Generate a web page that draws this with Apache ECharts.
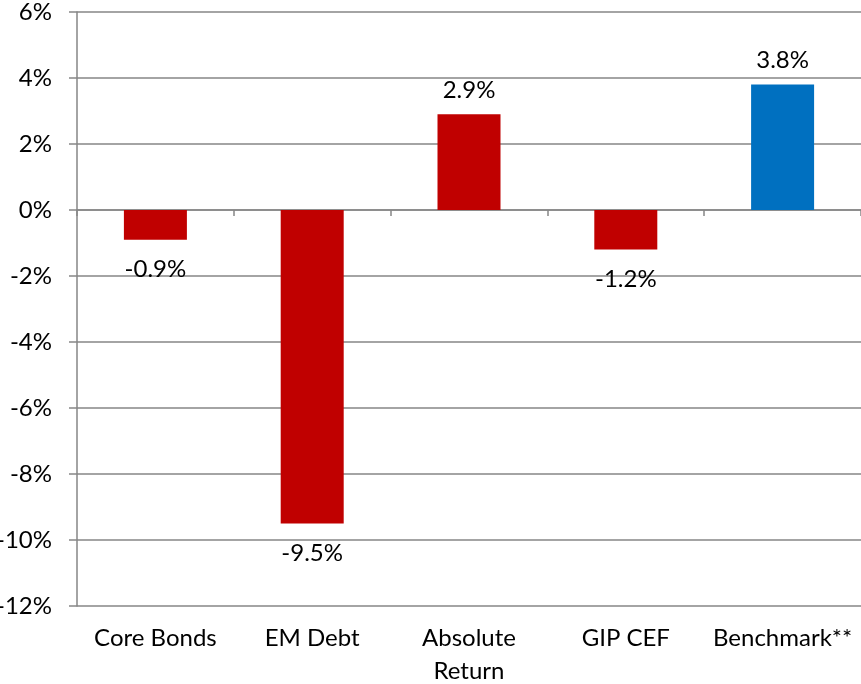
<!DOCTYPE html>
<html>
<head>
<meta charset="utf-8">
<script src="https://cdn.jsdelivr.net/npm/echarts@6/dist/echarts.min.js"></script>
<style>
  html, body { margin: 0; padding: 0; background: #fff; }
  #chart { width: 861px; height: 684px; }
</style>
</head>
<body>
<div id="chart"></div>
<script>
// data
var categories = ["Core Bonds", "EM Debt", "Absolute\nReturn", "GIP CEF", "Benchmark**"];
var returns = [-0.9, -9.5, 2.9, -1.2, 3.8];
var yTicks = { min: -12, max: 6, step: 2 };
var benchmarkName = "Benchmark**";

var red = "#C00000";
var blue = "#0070C0";
var grey = "#868686";
var font = "Lato, 'Liberation Sans', sans-serif";

var myChart = echarts.init(document.getElementById("chart"));

// negative bars get their label under the bar end
var barData = returns.map(function(v, i) {
  return {
    value: v,
    name: categories[i],
    label: v < 0 ? { position: "bottom", distance: 18 } : { position: "top", distance: 12 }
  };
});

myChart.setOption({
  animation: false,
  grid: { left: 77, right: 0, top: 12, bottom: 78, outerBoundsMode: "none", containLabel: false },
  textStyle: { fontFamily: font },
  xAxis: [
    {
      type: "category",
      data: categories,
      position: "bottom",
      axisLine: { show: false, onZero: false },
      axisTick: { show: false },
      axisLabel: {
        interval: 0,
        color: "#000",
        fontSize: 24,
        fontFamily: font,
        lineHeight: 33,
        margin: 16
      }
    },
    {
      // the zero line with its little ticks between bars
      type: "category",
      data: categories,
      position: "bottom",
      axisLine: { show: true, onZero: true, lineStyle: { color: grey, width: 1.5 } },
      axisTick: { show: true, interval: 0, length: 6, lineStyle: { color: grey, width: 1.5 } },
      axisLabel: { show: false }
    }
  ],
  yAxis: {
    type: "value",
    min: yTicks.min,
    max: yTicks.max,
    interval: yTicks.step,
    axisLine: { show: true, lineStyle: { color: grey, width: 1.5 } },
    axisTick: { show: true, length: 8, lineStyle: { color: grey, width: 1.5 } },
    splitLine: { show: true, lineStyle: { color: grey, width: 1.5 } },
    axisLabel: {
      color: "#000",
      fontSize: 24,
      fontFamily: font,
      margin: 25,
      formatter: "{value}%"
    }
  },
  series: [
    {
      type: "bar",
      xAxisIndex: 0,
      barWidth: 63,
      data: barData,
      itemStyle: {
        color: function(p) {
          return p.name === benchmarkName ? blue : red;
        }
      },
      label: {
        show: true,
        color: "#000",
        fontSize: 24,
        fontFamily: font,
        formatter: function(p) {
          return p.value.toFixed(1) + "%";
        }
      }
    }
  ]
});
</script>
</body>
</html>
